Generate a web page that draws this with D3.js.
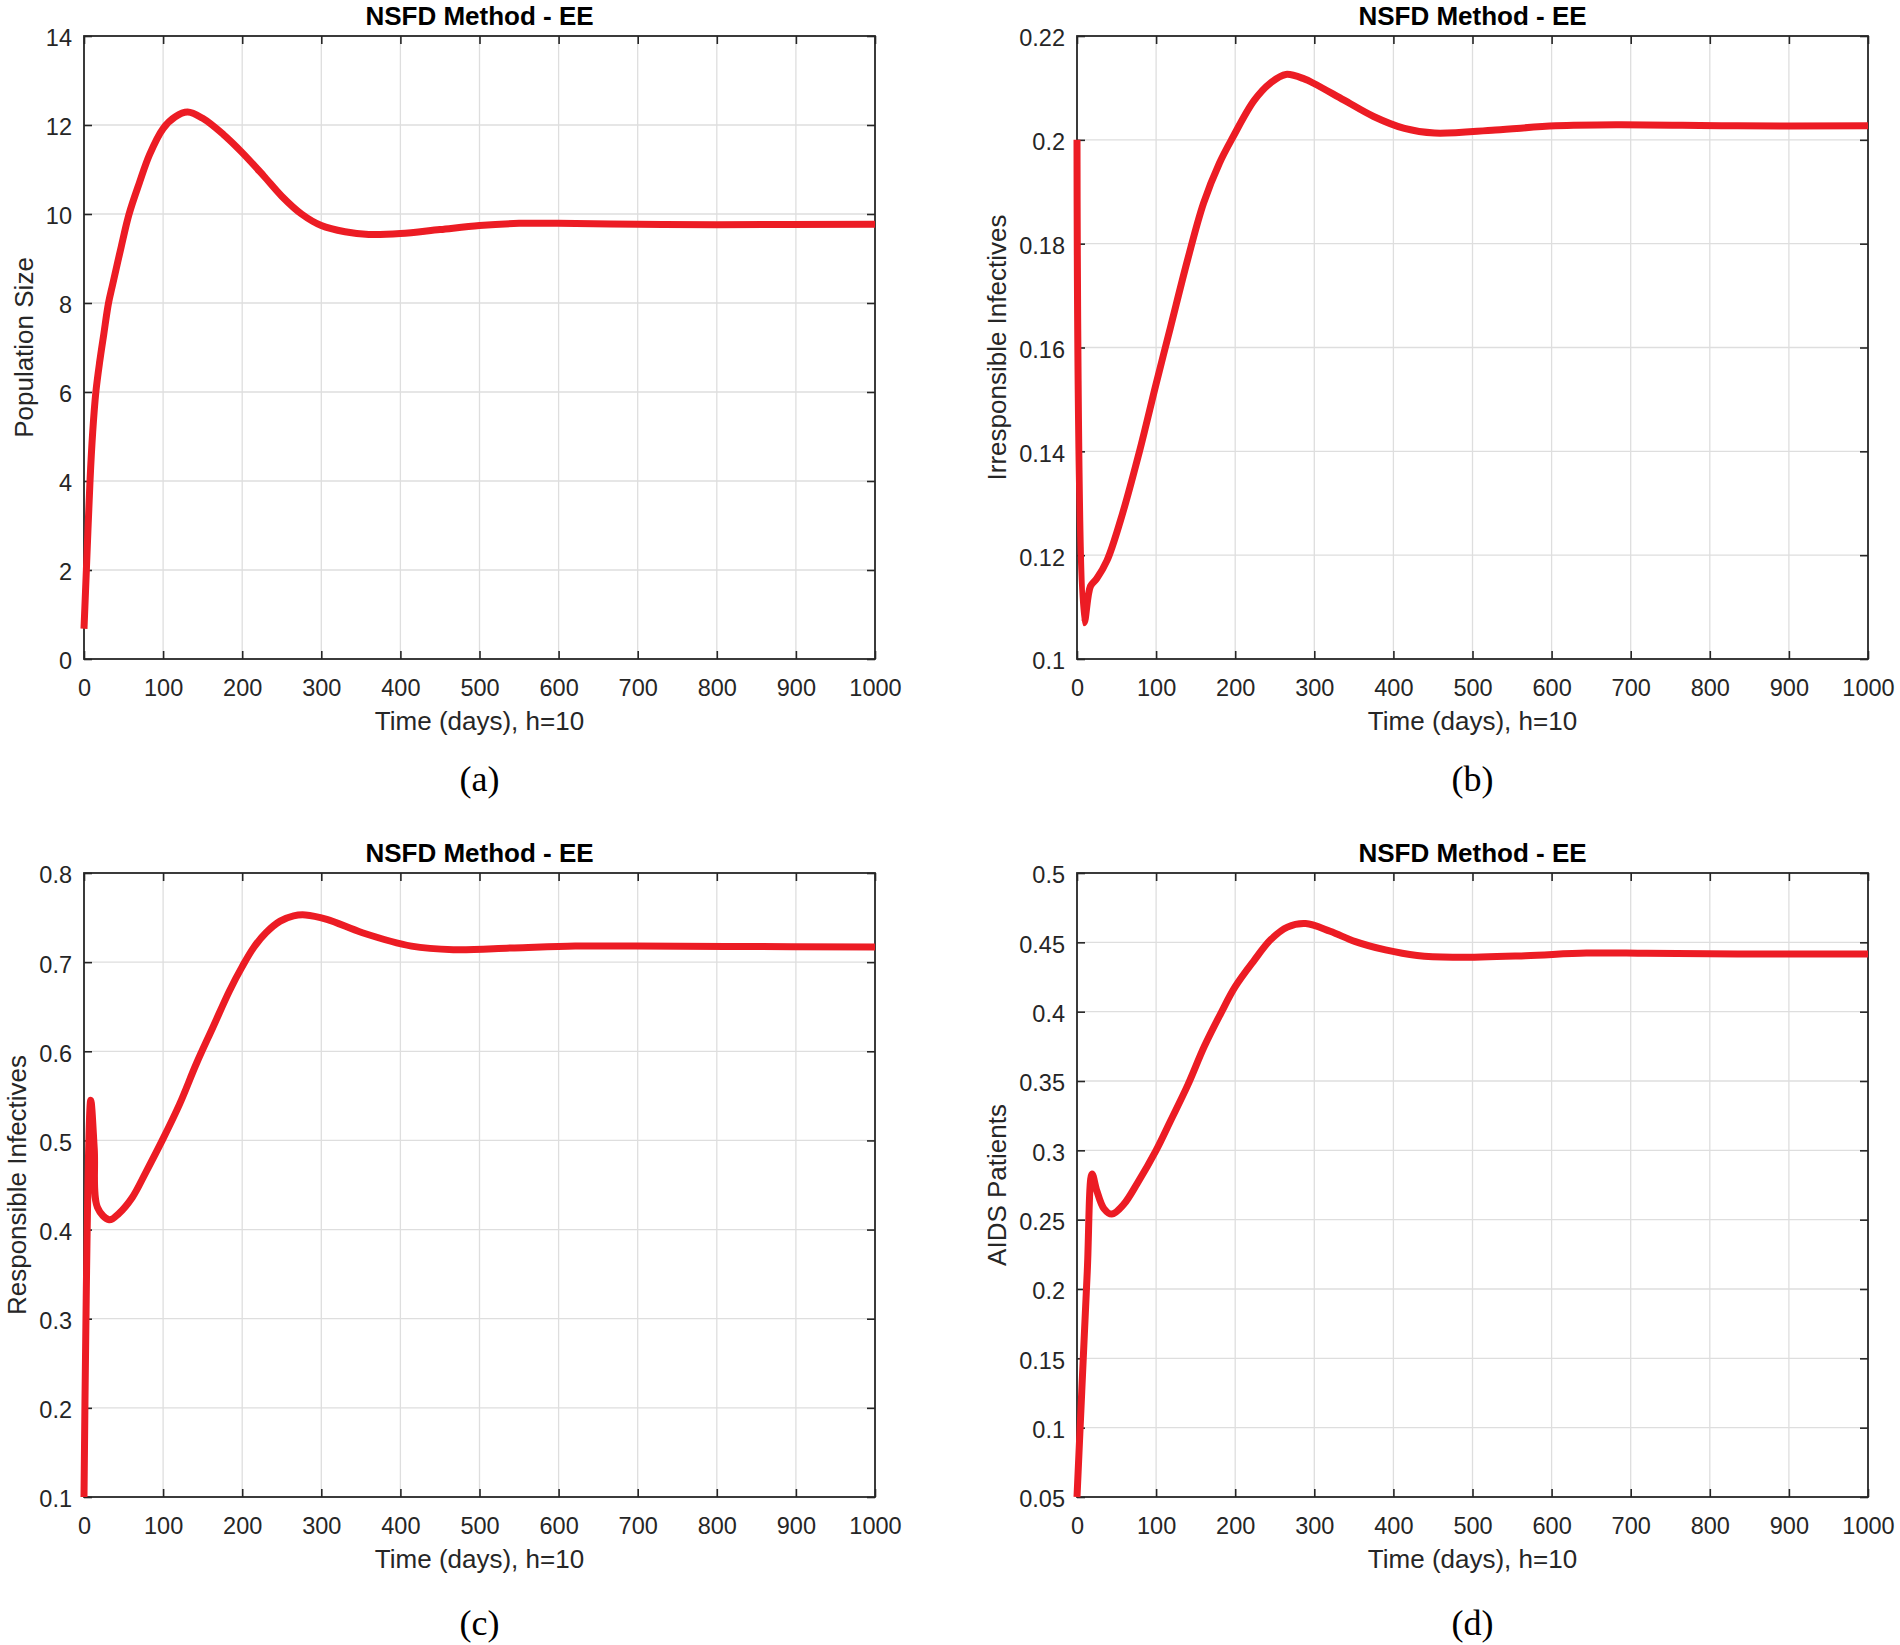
<!DOCTYPE html>
<html>
<head>
<meta charset="utf-8">
<script src="https://cdn.jsdelivr.net/npm/d3@7"></script>
<style>
  body { margin: 0; background: #fff; }
  text { font-family: "Liberation Sans", Arial, sans-serif; }
</style>
</head>
<body>
<script>
"use strict";

// values (time in days)
const popT = [0, 3, 7.6, 11, 15, 20, 25, 31, 36, 47, 57, 70, 83, 100, 115, 131, 150, 176, 200, 227, 250, 275, 300, 330, 360, 400, 450, 500, 550, 600, 700, 800, 1000];
const popV = [0.68, 2, 4, 5.1, 6, 6.7, 7.3, 8, 8.4, 9.26, 10, 10.7, 11.34, 11.92, 12.18, 12.29, 12.15, 11.79, 11.38, 10.86, 10.4, 10.0, 9.74, 9.6, 9.54, 9.56, 9.65, 9.74, 9.79, 9.79, 9.77, 9.76, 9.77];

const irrT = [0, 9, 17, 25, 38, 55, 79, 100, 118, 140, 160, 180, 197, 224, 245, 264, 288, 299, 337, 375, 414, 452, 529, 605, 682, 835, 1000];
const irrV = [0.2, 0.107, 0.114, 0.1155, 0.119, 0.1267, 0.14, 0.153, 0.1638, 0.177, 0.1878, 0.1955, 0.2005, 0.2076, 0.211, 0.2126, 0.2117, 0.2109, 0.2077, 0.2045, 0.2022, 0.2013, 0.2019, 0.2027, 0.2029, 0.2027, 0.2027];

const resT = [0, 8.5, 13, 17, 32, 44, 61, 78, 100, 121, 142, 163, 184, 200, 215, 230, 248, 265, 280, 307, 352, 414, 467, 544, 621, 697, 812, 1000];
const resV = [0.1, 0.545, 0.49, 0.425, 0.411, 0.418, 0.436, 0.464, 0.502, 0.541, 0.586, 0.627, 0.668, 0.695, 0.717, 0.733, 0.746, 0.752, 0.753, 0.748, 0.733, 0.718, 0.714, 0.716, 0.718, 0.718, 0.7176, 0.717];

const aidsT = [0, 6, 13, 19, 25, 34, 44, 59, 76, 100, 118, 140, 161, 182, 200, 224, 245, 266, 289, 320, 352, 390, 430, 475, 567, 644, 720, 835, 1000];
const aidsV = [0.05, 0.126, 0.213, 0.283, 0.271, 0.258, 0.254, 0.261, 0.276, 0.30, 0.321, 0.347, 0.375, 0.399, 0.418, 0.437, 0.452, 0.461, 0.4635, 0.458, 0.4505, 0.4445, 0.4405, 0.4392, 0.4404, 0.4423, 0.4421, 0.4416, 0.4416];

// tick labels
const timeTicks = [0, 100, 200, 300, 400, 500, 600, 700, 800, 900, 1000];
const popTicks = [0, 2, 4, 6, 8, 10, 12, 14];
const irrTicks = [0.1, 0.12, 0.14, 0.16, 0.18, 0.2, 0.22];
const resTicks = [0.1, 0.2, 0.3, 0.4, 0.5, 0.6, 0.7, 0.8];
const aidsTicks = [0.05, 0.1, 0.15, 0.2, 0.25, 0.3, 0.35, 0.4, 0.45, 0.5];

const titleText = "NSFD Method - EE";
const xLabelText = "Time (days), h=10";

let w = 1900;
let h = 1645;

const svg = d3.select("body")
    .append("svg")
    .attr("width", w)
    .attr("height", h);

// plot boxes: [left, top, right, bottom]
const panels = [
    {t: popT, v: popV, ticks: popTicks, label: "Population Size", tag: "(a)", box: [84, 36, 875, 659], tagY: 791},
    {t: irrT, v: irrV, ticks: irrTicks, label: "Irresponsible Infectives", tag: "(b)", box: [1077, 36, 1868, 659], tagY: 791},
    {t: resT, v: resV, ticks: resTicks, label: "Responsible Infectives", tag: "(c)", box: [84, 873, 875, 1497], tagY: 1635},
    {t: aidsT, v: aidsV, ticks: aidsTicks, label: "AIDS Patients", tag: "(d)", box: [1077, 873, 1868, 1497], tagY: 1635}
];

const ink = "#262626";
const tickLen = 8;

panels.forEach(p => {
    let [x0, y0, x1, y1] = p.box;
    let x = d3.scaleLinear().domain([0, 1000]).range([x0, x1]);
    let y = d3.scaleLinear().domain(d3.extent(p.ticks)).range([y1, y0]);
    let fmt = d => String(+d.toFixed(3));

    let g = svg.append("g");

    // grid
    g.append("g").selectAll("line")
        .data(timeTicks.slice(1, -1))
        .enter().append("line")
        .attr("x1", d => x(d)).attr("x2", d => x(d))
        .attr("y1", y0).attr("y2", y1)
        .attr("stroke", "#dedede").attr("stroke-width", 1.3);
    g.append("g").selectAll("line")
        .data(p.ticks.slice(1, -1))
        .enter().append("line")
        .attr("x1", x0).attr("x2", x1)
        .attr("y1", d => y(d)).attr("y2", d => y(d))
        .attr("stroke", "#dedede").attr("stroke-width", 1.3);

    // axes, ticks pointing in
    g.append("g")
        .attr("transform", `translate(0,${y1})`)
        .call(d3.axisBottom(x).tickValues(timeTicks).tickFormat(fmt)
            .tickSizeInner(-tickLen).tickSizeOuter(0).tickPadding(20));
    let left = g.append("g")
        .attr("transform", `translate(${x0},0)`)
        .call(d3.axisLeft(y).tickValues(p.ticks).tickFormat(fmt)
            .tickSizeInner(-tickLen).tickSizeOuter(0).tickPadding(12));
    g.append("g")
        .attr("transform", `translate(0,${y0})`)
        .call(d3.axisTop(x).tickValues(timeTicks).tickFormat("")
            .tickSizeInner(-tickLen).tickSizeOuter(0));
    g.append("g")
        .attr("transform", `translate(${x1},0)`)
        .call(d3.axisRight(y).tickValues(p.ticks).tickFormat("")
            .tickSizeInner(-tickLen).tickSizeOuter(0));

    g.selectAll(".domain").remove();
    g.selectAll(".tick line").attr("stroke", ink).attr("stroke-width", 1.6);
    g.selectAll(".tick text")
        .attr("fill", ink)
        .style("font-size", "23.5px")
        .style("font-family", "'Liberation Sans', Arial, sans-serif");
    left.selectAll(".tick text").attr("dy", "0.42em");

    g.append("rect")
        .attr("x", x0).attr("y", y0)
        .attr("width", x1 - x0).attr("height", y1 - y0)
        .attr("fill", "none").attr("stroke", ink).attr("stroke-width", 1.8);

    // the curve
    let line = d3.line()
        .x((d, i) => x(p.t[i]))
        .y(d => y(d))
        .curve(d3.curveCatmullRom.alpha(0.5));
    g.append("path")
        .datum(p.v)
        .attr("d", line)
        .attr("fill", "none")
        .attr("stroke", "#ec1c24")
        .attr("stroke-width", 7)
        .attr("stroke-linejoin", "round");

    // texts
    let cx = (x0 + x1) / 2;
    g.append("text")
        .attr("x", cx).attr("y", y0 - 11)
        .attr("text-anchor", "middle")
        .style("font-size", "26px").style("font-weight", "bold")
        .attr("fill", "#000")
        .text(titleText);

    g.append("text")
        .attr("x", cx).attr("y", y1 + 70.5)
        .attr("text-anchor", "middle")
        .style("font-size", "26px")
        .attr("fill", ink)
        .text(xLabelText);

    let maxW = d3.max(left.selectAll(".tick text").nodes(), n => n.getComputedTextLength());
    let lx = x0 - maxW - 12 - 13;
    g.append("text")
        .attr("transform", `translate(${lx},${(y0 + y1) / 2}) rotate(-90)`)
        .attr("text-anchor", "middle")
        .style("font-size", "26px")
        .attr("fill", ink)
        .text(p.label);

    g.append("text")
        .attr("x", cx).attr("y", p.tagY)
        .attr("text-anchor", "middle")
        .style("font-family", "'Liberation Serif', 'Times New Roman', serif")
        .style("font-size", "36px")
        .attr("fill", "#000")
        .text(p.tag);
});
</script>
</body>
</html>
